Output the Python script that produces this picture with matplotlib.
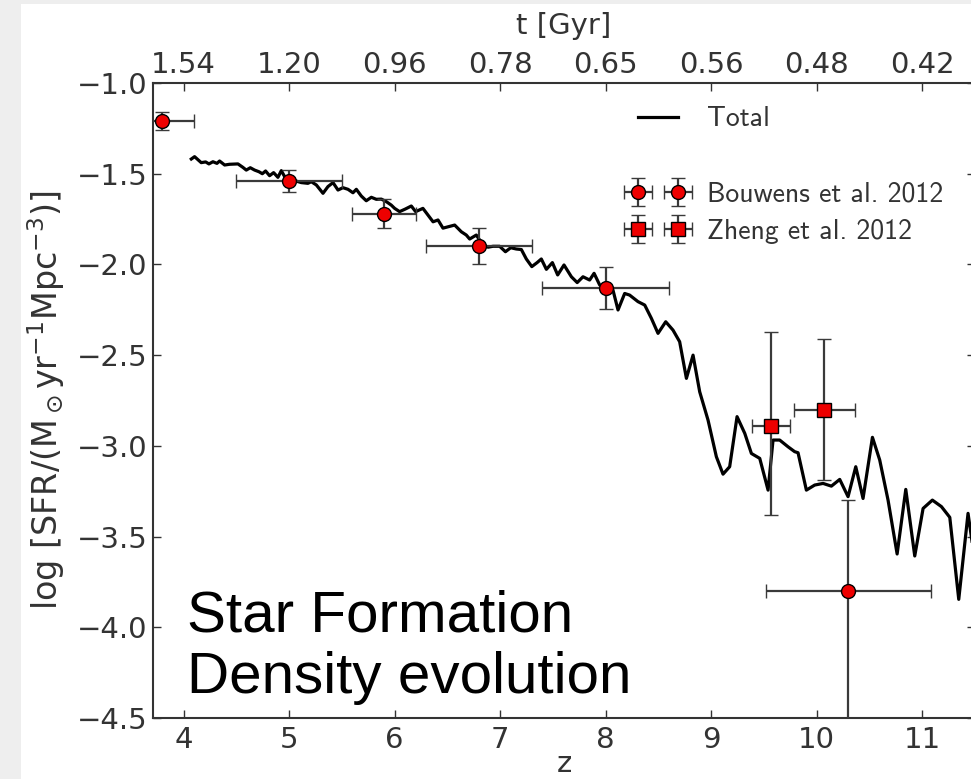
import matplotlib
matplotlib.use("Agg")
import matplotlib.pyplot as plt
from matplotlib.lines import Line2D
from matplotlib.patches import Rectangle

# model curve (Total)
z_total = [4.073, 4.104, 4.167, 4.209, 4.240, 4.278, 4.316, 4.341, 4.389, 4.436,
           4.515, 4.562, 4.594, 4.632, 4.673, 4.714, 4.746, 4.777, 4.815, 4.853,
           4.894, 4.926, 4.967, 5.052, 5.115, 5.178, 5.210, 5.258, 5.321, 5.368,
           5.416, 5.463, 5.510, 5.558, 5.605, 5.637, 5.684, 5.731, 5.779, 5.826,
           5.874, 5.921, 5.968, 6.000, 6.047, 6.100, 6.158, 6.199, 6.268, 6.316,
           6.364, 6.411, 6.458, 6.521, 6.569, 6.632, 6.679, 6.711, 6.774, 6.837,
           6.885, 6.932, 6.995, 7.050, 7.100, 7.153, 7.201, 7.248, 7.300, 7.350,
           7.390, 7.438, 7.495, 7.545, 7.605, 7.675, 7.730, 7.785, 7.848, 7.890,
           7.943, 8.038, 8.069, 8.117, 8.180, 8.227, 8.306, 8.370, 8.433, 8.496,
           8.569, 8.638, 8.701, 8.765, 8.828, 8.891, 8.970, 9.049, 9.112, 9.175,
           9.245, 9.318, 9.381, 9.460, 9.539, 9.586, 9.649, 9.728, 9.791, 9.823,
           9.902, 9.981, 10.060, 10.139, 10.218, 10.297, 10.370, 10.439, 10.528, 10.597,
           10.676, 10.762, 10.844, 10.929, 11.008, 11.096, 11.182, 11.261, 11.346, 11.434,
           11.480]
sfr_total = [-1.419, -1.406, -1.439, -1.435, -1.446, -1.434, -1.443, -1.430, -1.452, -1.448,
             -1.446, -1.465, -1.480, -1.467, -1.480, -1.489, -1.500, -1.485, -1.511, -1.494,
             -1.520, -1.483, -1.526, -1.538, -1.549, -1.553, -1.544, -1.562, -1.608, -1.571,
             -1.549, -1.590, -1.577, -1.586, -1.605, -1.586, -1.623, -1.649, -1.630, -1.641,
             -1.640, -1.654, -1.673, -1.691, -1.709, -1.695, -1.678, -1.709, -1.691, -1.728,
             -1.765, -1.755, -1.800, -1.790, -1.783, -1.820, -1.838, -1.860, -1.838, -1.893,
             -1.905, -1.900, -1.900, -1.930, -1.908, -1.915, -1.918, -1.970, -2.012, -1.990,
             -1.970, -2.027, -1.990, -2.058, -2.003, -2.068, -2.100, -2.068, -2.086, -2.049,
             -2.113, -2.150, -2.141, -2.251, -2.160, -2.169, -2.205, -2.224, -2.297, -2.380,
             -2.316, -2.362, -2.426, -2.628, -2.500, -2.702, -2.858, -3.060, -3.156, -3.115,
             -2.839, -2.931, -3.042, -3.069, -3.244, -2.968, -2.968, -3.005, -3.032, -3.038,
             -3.244, -3.216, -3.207, -3.222, -3.185, -3.280, -3.115, -3.290, -2.953, -3.078,
             -3.299, -3.596, -3.240, -3.607, -3.345, -3.299, -3.335, -3.394, -3.846, -3.372,
             -3.560]

# Bouwens et al. 2012
z_bouwens = [3.8, 5.0, 5.9, 6.8, 8.0, 10.3]
sfr_bouwens = [-1.21, -1.54, -1.72, -1.90, -2.13, -3.80]
zerr_bouwens = [0.3, 0.5, 0.3, 0.5, 0.6, 0.78]
sfr_err_lo_bouwens = [0.05, 0.06, 0.08, 0.10, 0.115, 1.5]
sfr_err_hi_bouwens = [0.05, 0.06, 0.08, 0.10, 0.115, 0.5]

# Zheng et al. 2012
z_zheng = [9.57, 10.07]
sfr_zheng = [-2.89, -2.80]
zerr_zheng = [0.18, 0.29]
sfr_err_lo_zheng = [0.49, 0.39]
sfr_err_hi_zheng = [0.52, 0.39]

z_ticks = [4, 5, 6, 7, 8, 9, 10, 11]
age_labels = ["1.54", "1.20", "0.96", "0.78", "0.65", "0.56", "0.48", "0.42"]
y_ticks = [-1.0, -1.5, -2.0, -2.5, -3.0, -3.5, -4.0, -4.5]

grey = "#333333"
plt.rcParams["font.family"] = "DejaVu Sans"
plt.rcParams["mathtext.fontset"] = "dejavusans"

fig = plt.figure(figsize=(9.71, 7.79), dpi=100, facecolor="#eeeeee")
fig.patches.append(Rectangle((21 / 971, 0), 1, (779 - 4) / 779, transform=fig.transFigure,
                             facecolor="white", edgecolor="none", zorder=-10))

ax = fig.add_axes([153 / 971, 61 / 779, 822 / 971, 635 / 779])
ax.set_facecolor("none")

line_total, = ax.plot(z_total, sfr_total, color="black", lw=2.3, zorder=2)

eb_style = dict(fmt="o", ms=10, mfc="#ee0000", mec="black", mew=1.0,
                ecolor="#3a3a3a", elinewidth=1.6, capsize=5, capthick=1.6, zorder=3)
eb_b = ax.errorbar(z_bouwens, sfr_bouwens, xerr=zerr_bouwens,
                   yerr=[sfr_err_lo_bouwens, sfr_err_hi_bouwens], **eb_style)
eb_style["fmt"] = "s"
eb_style["ms"] = 10.5
eb_z = ax.errorbar(z_zheng, sfr_zheng, xerr=zerr_zheng,
                   yerr=[sfr_err_lo_zheng, sfr_err_hi_zheng], **eb_style)

ax.set_xlim(3.71, 11.5)
ax.set_ylim(-4.5, -1.0)
ax.set_yticks(y_ticks)
ax.set_xticks(z_ticks)
ax.tick_params(direction="in", length=6, width=1, colors=grey, labelsize=21,
               right=True, pad=6)
ax.tick_params(axis="y", pad=4)
for s in ax.spines.values():
    s.set_color(grey)
    s.set_linewidth(1.5)

ax.set_xlabel("z", fontsize=21, color=grey, labelpad=-3)
ax.set_ylabel(r"log [SFR/(M$_\odot$yr$^{-1}$Mpc$^{-3}$)]", fontsize=24, color=grey, labelpad=7)

ax2 = ax.twiny()
ax2.set_xlim(ax.get_xlim())
ax2.set_xticks(z_ticks)
ax2.set_xticklabels(age_labels)
ax2.tick_params(direction="in", length=6, width=1, colors=grey, labelsize=21, pad=3)
for s in ax2.spines.values():
    s.set_visible(False)
ax2.set_xlabel("t [Gyr]", fontsize=21, color=grey, labelpad=12)

blank = Line2D([], [], alpha=0)
leg = ax.legend([line_total, blank, eb_b, eb_z],
                ["Total", "", "Bouwens et al. 2012", "Zheng et al. 2012"],
                loc="upper left", bbox_to_anchor=(0.563, 0.985), frameon=False,
                numpoints=2, handlelength=2.05, handletextpad=0.75, labelspacing=0.45,
                borderpad=0, prop={"family": "cmss10", "size": 20})
for t in leg.get_texts():
    t.set_color(grey)

fig.text(187 / 971, 1 - 631 / 779, "Star Formation", fontsize=42,
         family="Liberation Sans", color="black", va="baseline")
fig.text(187 / 971, 1 - 693 / 779, "Density evolution", fontsize=42,
         family="Liberation Sans", color="black", va="baseline")

fig.savefig("out.png", dpi=100, facecolor=fig.get_facecolor())
